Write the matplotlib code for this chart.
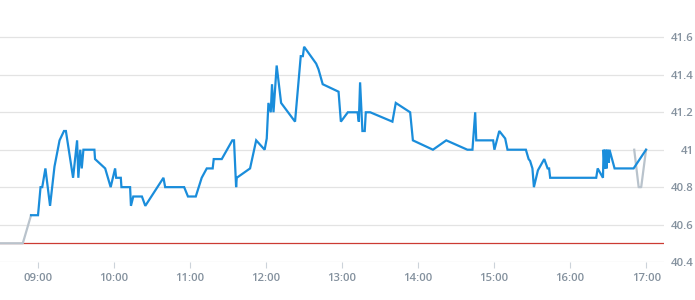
import matplotlib
matplotlib.use("Agg")
import matplotlib.pyplot as plt
import matplotlib.dates as mdates
import pandas as pd

# intraday price (blue) and the grey pre/post segments
price_times = [
    "08:54:30", "09:00:00", "09:02:00", "09:03:20", "09:05:50", "09:09:30",
    "09:13:00", "09:17:00", "09:20:30", "09:22:00", "09:27:40", "09:30:50",
    "09:31:50", "09:33:20", "09:34:30", "09:35:50", "09:44:30", "09:45:00",
    "09:53:00", "09:57:20", "10:00:50", "10:01:40", "10:05:20", "10:05:50",
    "10:12:40", "10:13:20", "10:15:10", "10:22:00", "10:24:40", "10:39:00",
    "10:40:20", "10:55:20", "10:58:20", "11:04:30", "11:09:10", "11:13:10",
    "11:17:50", "11:18:40", "11:25:00", "11:33:20", "11:34:40", "11:36:20",
    "11:36:50", "11:47:20", "11:52:10", "11:58:50", "12:00:30", "12:01:50",
    "12:03:40", "12:04:40", "12:05:50", "12:08:20", "12:11:50", "12:22:50",
    "12:27:20", "12:29:00", "12:30:00", "12:39:30", "12:41:20", "12:44:40",
    "12:57:10", "12:59:00", "13:04:30", "13:12:10", "13:13:10", "13:14:10",
    "13:16:00", "13:17:50", "13:18:40", "13:22:10", "13:39:40", "13:42:20",
    "13:53:40", "13:55:50", "14:11:40", "14:22:10", "14:38:50", "14:42:50",
    "14:45:00", "14:45:50", "14:59:10", "15:00:10", "15:04:00", "15:08:40",
    "15:10:30", "15:25:00", "15:27:10", "15:28:20", "15:30:10", "15:31:20",
    "15:34:30", "15:39:30", "15:42:10", "15:43:20", "15:44:10", "16:20:30",
    "16:21:40", "16:25:50", "16:26:20", "16:27:10", "16:27:50", "16:28:40",
    "16:29:20", "16:30:30", "16:31:00", "16:35:00", "16:50:00", "16:59:50",
]
price_values = [
    40.65, 40.65, 40.80, 40.80, 40.90, 40.70,
    40.91, 41.05, 41.10, 41.10, 40.85, 41.05,
    40.85, 41.00, 40.90, 41.00, 41.00, 40.95,
    40.90, 40.80, 40.90, 40.85, 40.85, 40.80,
    40.80, 40.70, 40.75, 40.75, 40.70, 40.85,
    40.80, 40.80, 40.75, 40.75, 40.85, 40.90,
    40.90, 40.95, 40.95, 41.05, 41.05, 40.80,
    40.85, 40.90, 41.05, 41.00, 41.06, 41.25,
    41.20, 41.35, 41.20, 41.45, 41.25, 41.15,
    41.50, 41.50, 41.55, 41.46, 41.43, 41.35,
    41.31, 41.15, 41.20, 41.20, 41.15, 41.36,
    41.10, 41.10, 41.20, 41.20, 41.15, 41.25,
    41.20, 41.05, 41.00, 41.05, 41.00, 41.00,
    41.20, 41.05, 41.05, 41.00, 41.10, 41.06,
    41.00, 41.00, 40.95, 40.94, 40.90, 40.80,
    40.89, 40.95, 40.90, 40.90, 40.85, 40.85,
    40.90, 40.85, 41.00, 40.90, 41.00, 40.90,
    41.00, 40.93, 41.00, 40.90, 40.90, 41.00,
]

pre_times = ["08:30:00", "08:48:00", "08:54:30"]
pre_values = [40.50, 40.50, 40.65]
post_times = ["16:50:30", "16:54:00", "16:56:00", "16:59:50"]
post_values = [41.00, 40.80, 40.80, 41.00]

prev_close = 40.5
y_ticks = [40.4, 40.6, 40.8, 41.0, 41.2, 41.4, 41.6]
y_tick_labels = ["40.4", "40.6", "40.8", "41", "41.2", "41.4", "41.6"]

day = "2024-01-02 "


def to_dt(times):
    return pd.to_datetime([day + t for t in times])


plt.rcParams["font.family"] = ["Open Sans", "DejaVu Sans"]

fig = plt.figure(figsize=(6.95, 3.0), dpi=100)
ax = fig.add_axes([0.0, 38 / 300, 664 / 695, 262 / 300])

ax.axhline(prev_close, color="#cc3b33", lw=0.9, zorder=2)
ax.plot(to_dt(pre_times), pre_values, color="#b9c3cc", lw=1.6, zorder=3)
ax.plot(to_dt(post_times), post_values, color="#b9c3cc", lw=1.6, zorder=3)
ax.plot(to_dt(price_times), price_values, color="#1a8ddb", lw=1.6,
        solid_joinstyle="miter", zorder=4)

ax.set_xlim(pd.Timestamp(day + "08:30"), pd.Timestamp(day + "17:14"))
ax.set_ylim(40.4, 41.8)

ax.xaxis.set_major_locator(mdates.HourLocator(byhour=range(9, 18)))
ax.xaxis.set_major_formatter(mdates.DateFormatter("%H:%M"))
ax.set_yticks(y_ticks)
ax.set_yticklabels(y_tick_labels)
ax.yaxis.tick_right()

for s in ax.spines.values():
    s.set_visible(False)
ax.grid(axis="y", color="#e3e3e3", lw=0.9)
ax.set_axisbelow(True)

ax.tick_params(axis="x", length=4, width=0.8, color="#ccd3da", pad=4,
               labelsize=8.2, labelcolor="#84919e")
ax.tick_params(axis="y", length=0, pad=21.5, labelsize=8.2,
               labelcolor="#84919e")
for lab in ax.get_yticklabels():
    lab.set_ha("right")
    lab.set_fontweight("semibold")
for lab in ax.get_xticklabels():
    lab.set_fontweight("semibold")

fig.savefig("out.png", dpi=100)
